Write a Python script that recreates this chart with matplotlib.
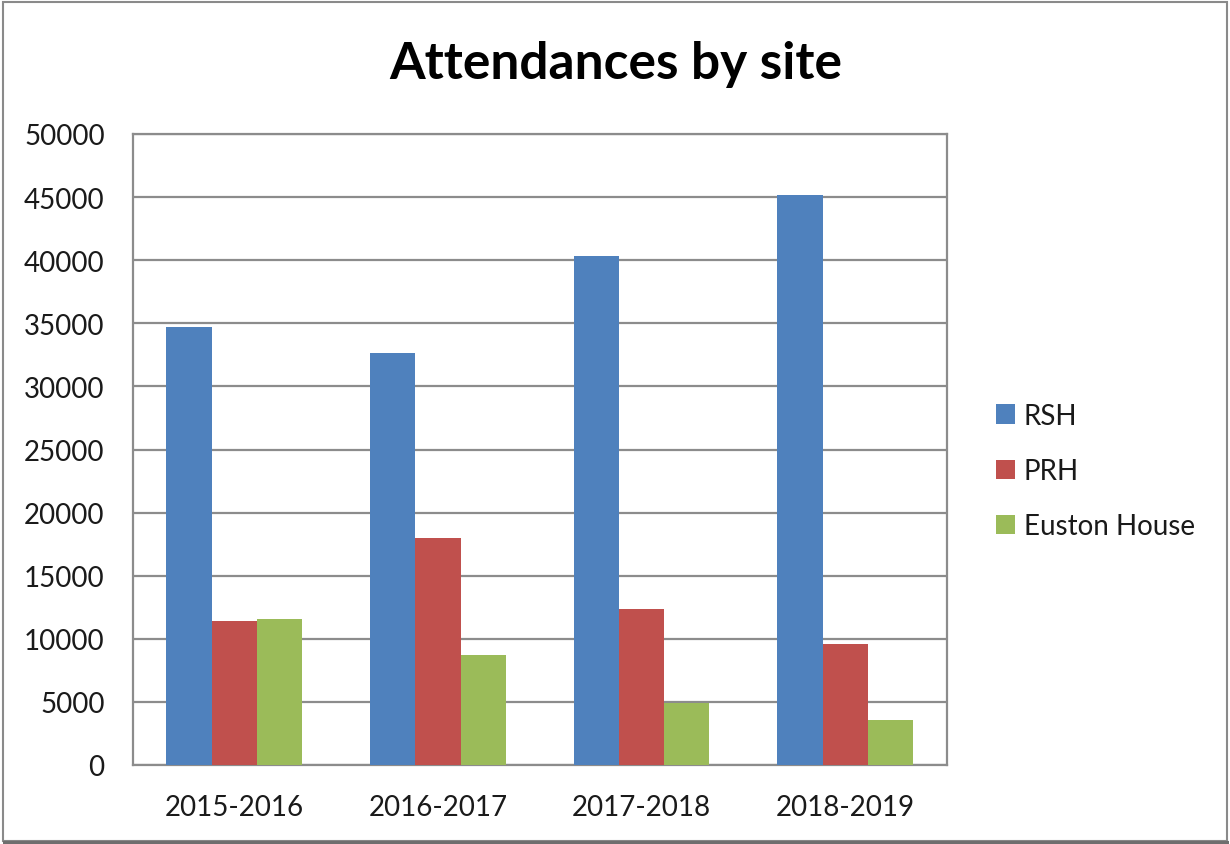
import numpy as np
import matplotlib

matplotlib.use("Agg")
import matplotlib.pyplot as plt
from matplotlib.patches import Rectangle

# --- data -----------------------------------------------------------------------
years = ["2015-2016", "2016-2017", "2017-2018", "2018-2019"]
rsh = [34700, 32650, 40350, 45200]
prh = [11400, 18000, 12400, 9600]
euston = [11550, 8750, 4900, 3600]
series_names = ["RSH", "PRH", "Euston House"]
y_ticks = [0, 5000, 10000, 15000, 20000, 25000, 30000, 35000, 40000, 45000, 50000]

COLORS = ["#4F81BD", "#C0504D", "#9BBB59"]
GRID = "#8C8C8C"
TXT = "#1A1A1A"

plt.rcParams["font.family"] = ["Lato", "DejaVu Sans"]

W, H = 1230, 845
fig = plt.figure(figsize=(W / 100, H / 100), dpi=100)

# plot area in pixel coords -> figure fractions
left, right, top, bottom = 132.5, 947, 135, 766
ax = fig.add_axes([left / W, (H - bottom) / H, (right - left) / W, (bottom - top) / H])

x = np.arange(len(years))
bw = 1 / 4.5  # Excel default gap width 150%
for i, (vals, name) in enumerate(zip([rsh, prh, euston], series_names)):
    ax.bar(x + (i - 1) * bw, vals, width=bw, color=COLORS[i], label=name, zorder=3)

ax.set_xlim(-0.5, len(years) - 0.5)
ax.set_ylim(0, 50000)
ax.set_yticks(y_ticks)
ax.set_yticklabels([str(v) for v in y_ticks])
ax.set_xticks(x)
ax.set_xticklabels(years)
ax.yaxis.grid(True, color=GRID, linewidth=1.6, zorder=0)
ax.tick_params(axis="both", length=0, labelsize=20, colors=TXT)
ax.tick_params(axis="y", pad=20)
ax.tick_params(axis="x", pad=21)
for s in ax.spines.values():
    s.set_color(GRID)
    s.set_linewidth(1.6)

fig.text(616 / W, 1 - 64 / H, "Attendances by site", ha="center", va="center",
         fontsize=37, fontweight="bold", color="black")

fig.legend(loc="center left", bbox_to_anchor=(971 / W, 1 - 472 / H), frameon=False,
           fontsize=20, handlelength=0.7, handleheight=0.7, handletextpad=0.3,
           labelspacing=1.05, labelcolor=TXT)

# outer chart border
fig.patches.append(Rectangle((3 / W, 3 / H), 1 - 6 / W, 1 - 6 / H, transform=fig.transFigure,
                             fill=False, edgecolor="#8A8A8A", linewidth=1.5))
fig.patches.append(Rectangle((3 / W, 1 / H), 1 - 4 / W, 0, transform=fig.transFigure,
                             fill=False, edgecolor="#6E6E6E", linewidth=3))

fig.savefig("out.png", dpi=100)
plt.close(fig)
